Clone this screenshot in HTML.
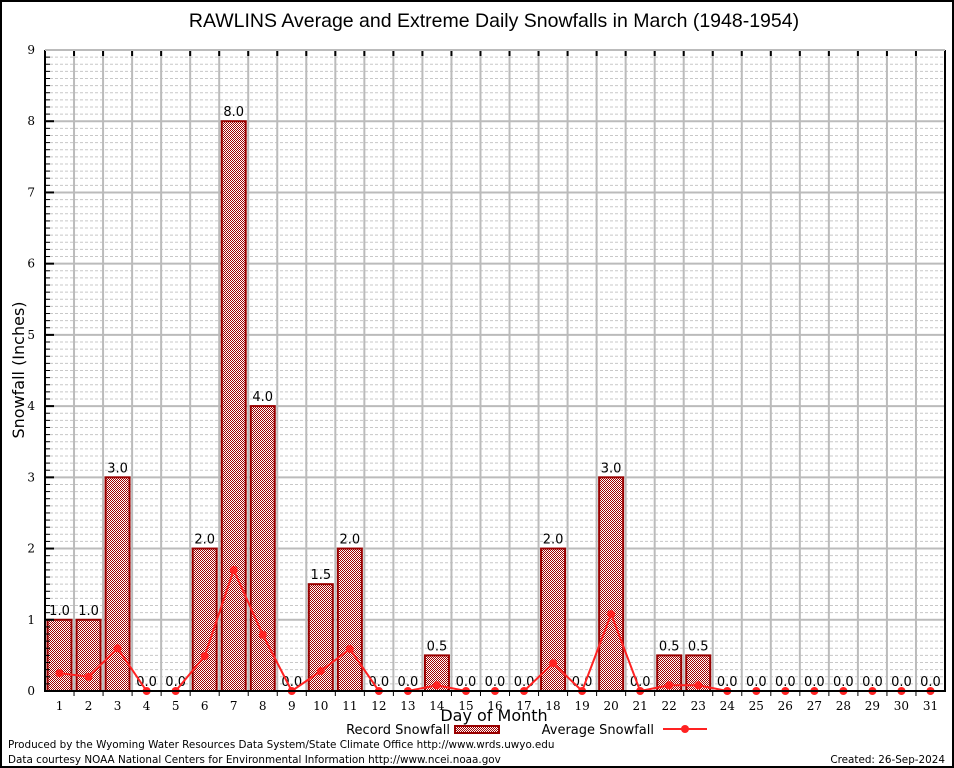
<!DOCTYPE html>
<html><head><meta charset="utf-8"><style>
html,body{margin:0;padding:0;background:#fff}
svg{display:block}
text{font-family:"DejaVu Sans","Liberation Sans",sans-serif}
.tick{font-family:"DejaVu Serif","Liberation Serif",serif;font-size:12px}
</style></head><body>
<svg id="chart" width="954" height="768" xmlns="http://www.w3.org/2000/svg">
<defs>
<pattern id="chk" width="2" height="2" patternUnits="userSpaceOnUse">
<rect width="2" height="2" fill="#fff"/><rect width="1" height="1" fill="#a00000"/><rect x="1" y="1" width="1" height="1" fill="#a00000"/>
</pattern>
</defs>
<rect x="1" y="1" width="952" height="766" fill="#fff" stroke="#000" stroke-width="2"/>
<text x="494" y="27" font-size="19" text-anchor="middle" style="font-family:'Liberation Sans',sans-serif;font-size:19.5px">RAWLINS Average and Extreme Daily Snowfalls in March (1948-1954)</text>
<g id="grid"></g>
<g id="bars"></g>
<g id="avg"></g>
<g id="axes"></g>
<text transform="translate(24,370) rotate(-90)" font-size="16" text-anchor="middle">Snowfall (Inches)</text>
<text x="494" y="721" font-size="16" text-anchor="middle">Day of Month</text>
<g>
<text x="450" y="734" font-size="13" text-anchor="end">Record Snowfall</text>
<rect x="455" y="726" width="44" height="7" fill="url(#chk)" stroke="#990000" stroke-width="2"/>
<text x="654" y="734" font-size="13" text-anchor="end">Average Snowfall</text>
<line x1="663" y1="729" x2="707" y2="729" stroke="#f22" stroke-width="2"/>
<circle cx="685" cy="729" r="4" fill="#f22"/>
</g>
<text x="8" y="748" font-size="10.4">Produced by the Wyoming Water Resources Data System/State Climate Office http://www.wrds.uwyo.edu</text>
<text x="8" y="763" font-size="10.4">Data courtesy NOAA National Centers for Environmental Information http://www.ncei.noaa.gov</text>
<text x="945" y="763" font-size="10.4" text-anchor="end">Created: 26-Sep-2024</text>
</svg>
<script>
const days=[1,2,3,4,5,6,7,8,9,10,11,12,13,14,15,16,17,18,19,20,21,22,23,24,25,26,27,28,29,30,31];
const recordSnow=[1.0,1.0,3.0,0,0,2.0,8.0,4.0,0,1.5,2.0,0,0,0.5,0,0,0,2.0,0,3.0,0,0.5,0.5,0,0,0,0,0,0,0,0];
const avgSnow=[0.25,0.2,0.6,0,0,0.49,1.7,0.79,0,0.28,0.59,0,0,0.08,0,0,0,0.39,0,1.08,0,0.08,0.08,0,0,0,0,0,0,0,0];
const yTicks=[0,1,2,3,4,5,6,7,8,9];
const L=45,R=945,T=50,B=691,YMAX=9;
const X=d=>L+(d-0.5)*(R-L)/days.length;
const Y=v=>B-v*(B-T)/YMAX;
const NS="http://www.w3.org/2000/svg";
function mk(p,tag,a){const e=document.createElementNS(NS,tag);for(const k in a)e.setAttribute(k,a[k]);p.appendChild(e);return e;}
const grid=document.getElementById('grid'),bars=document.getElementById('bars'),avg=document.getElementById('avg'),axes=document.getElementById('axes');
for(let i=1;i<YMAX*10;i++){if(i%10===0)continue;const y=Y(i/10);
const l=mk(grid,'line',{x1:L,x2:R,y1:y,y2:y,stroke:'#c8c8c8','stroke-width':1,'stroke-dasharray':'3,2'});


const t=mk(axes,'line',{x1:L,x2:L+5,y1:y,y2:y,stroke:'#000','stroke-width':1});

}
yTicks.forEach(v=>{const y=Y(v);
const l=mk(grid,'line',{x1:L,x2:R,y1:y,y2:y,stroke:'#bbb','stroke-width':2});


const t=mk(axes,'line',{x1:L,x2:L+9,y1:y,y2:y,stroke:'#000','stroke-width':2});


const tx=mk(axes,'text',{x:L-10,y:y+4,'text-anchor':'end',class:'tick'});tx.textContent=v;

});
for(let i=1;i<days.length;i++){const x=X(i+0.5);
const l=mk(grid,'line',{x1:x,x2:x,y1:T,y2:B,stroke:'#bbb','stroke-width':2});


const t=mk(axes,'line',{x1:x,x2:x,y1:T,y2:T+6,stroke:'#000','stroke-width':2});


const t2=mk(axes,'line',{x1:x,x2:x,y1:B,y2:B+5,stroke:'#000','stroke-width':1});

}
const bw=24;
days.forEach((d,i)=>{const v=recordSnow[i],x=X(d);
if(v>0){const r=mk(bars,'rect',{x:x-bw/2,y:Y(v),width:bw,height:B-Y(v),fill:'url(#chk)',stroke:'#990000','stroke-width':2});

}
const t=mk(bars,'text',{x:x,y:Y(v)-5,'text-anchor':'middle','font-size':13});t.textContent=v.toFixed(1);


const xl=mk(axes,'text',{x:x,y:B+19,'text-anchor':'middle',class:'tick'});xl.textContent=d;

});
const pts=days.map((d,i)=>X(d)+','+Y(avgSnow[i])).join(' ');
const pl=mk(avg,'polyline',{points:pts,fill:'none',stroke:'#f22','stroke-width':2});


days.forEach((d,i)=>{const c=mk(avg,'circle',{cx:X(d),cy:Y(avgSnow[i]),r:4,fill:'#f22'});

});
const ax=mk(axes,'path',{d:`M${L},${T}V${B}H${R}V${T}`,fill:'none',stroke:'#000','stroke-width':2});


const tp=mk(axes,'line',{x1:L,x2:R,y1:T,y2:T,stroke:'#bbb','stroke-width':2});


</script>
</body></html>
